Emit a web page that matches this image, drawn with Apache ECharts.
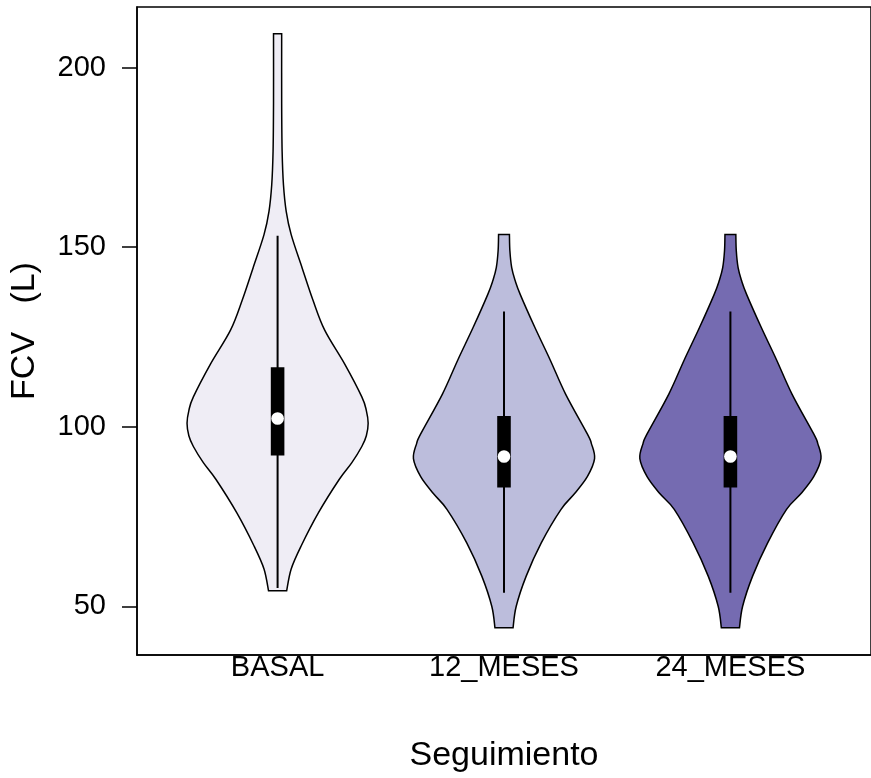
<!DOCTYPE html>
<html>
<head>
<meta charset="utf-8">
<script src="https://cdn.jsdelivr.net/npm/echarts@6/dist/echarts.min.js"></script>
<style>
  html, body { margin: 0; padding: 0; background: #fff; }
  #chart { width: 871px; height: 778px; }
</style>
</head>
<body>
<div id="chart"></div>
<script>
// grupos del seguimiento
var groups = ['BASAL', '12_MESES', '24_MESES'];

// perfiles de densidad (valor FCV, densidad relativa)
var basalY    = [54.3, 60.4, 66.8, 76, 85.3, 90, 94.5, 97.5, 101, 104.5, 108.3, 117.5, 126.9, 135.3, 144.3, 153.5, 160, 167.3, 176.7, 190, 209.4];
var basalDens = [0.10, 0.15, 0.26, 0.45, 0.68, 0.82, 0.93, 0.98, 1.0, 0.98, 0.93, 0.74, 0.52, 0.39, 0.27, 0.15, 0.095, 0.065, 0.05, 0.045, 0.045];

var m12Y    = [44, 50, 58.4, 67.6, 77, 81.4, 86.1, 91.1, 95.3, 98, 109.1, 118.6, 127.7, 136.8, 140.7, 144.3, 149, 153.5];
var m12Dens = [0.10, 0.135, 0.245, 0.41, 0.63, 0.78, 0.92, 1.0, 0.965, 0.92, 0.68, 0.51, 0.34, 0.18, 0.123, 0.085, 0.065, 0.06];

var m24Y    = [44, 50, 58.4, 67.6, 77, 81.4, 86.1, 91.1, 95.3, 98, 109.1, 118.6, 127.7, 136.8, 140.7, 144.3, 149, 153.5];
var m24Dens = [0.10, 0.135, 0.245, 0.41, 0.62, 0.78, 0.92, 1.0, 0.965, 0.92, 0.68, 0.51, 0.34, 0.18, 0.123, 0.085, 0.065, 0.06];

// resumen de caja
var whiskerLo = [55.1, 53.8, 53.8];
var boxQ1     = [92.0, 83.1, 83.1];
var medians   = [102.3, 91.7, 91.7];
var boxQ3     = [116.6, 103.0, 103.0];
var whiskerHi = [153.2, 132.1, 132.1];

var yTicks = [50, 100, 150, 200];

var profiles = [[basalY, basalDens], [m12Y, m12Dens], [m24Y, m24Dens]];
var fills = ['#efedf5', '#bcbddc', '#756bb1'];
var maxHalf = 0.40;   // semiancho máximo en unidades del eje x
var boxHalf = 0.030;

// curva suave (Catmull-Rom) entre puntos en píxeles
function curveTo(pts) {
  var s = '';
  for (var i = 0; i < pts.length - 1; i++) {
    var p0 = pts[i - 1] || pts[i], p1 = pts[i], p2 = pts[i + 1], p3 = pts[i + 2] || pts[i + 1];
    var c1 = [p1[0] + (p2[0] - p0[0]) / 6, p1[1] + (p2[1] - p0[1]) / 6];
    var c2 = [p2[0] - (p3[0] - p1[0]) / 6, p2[1] - (p3[1] - p1[1]) / 6];
    s += ' C' + c1[0] + ' ' + c1[1] + ' ' + c2[0] + ' ' + c2[1] + ' ' + p2[0] + ' ' + p2[1];
  }
  return s;
}

function renderViolin(params, api) {
  var i = params.dataIndex;
  var x = api.value(0);
  var ys = profiles[i][0], ds = profiles[i][1];
  var right = [], left = [];
  for (var k = 0; k < ys.length; k++) {
    right.push(api.coord([x + maxHalf * ds[k], ys[k]]));
    left.push(api.coord([x - maxHalf * ds[k], ys[k]]));
  }
  left.reverse();
  var d = 'M' + right[0][0] + ' ' + right[0][1] + curveTo(right) +
          ' L' + left[0][0] + ' ' + left[0][1] + curveTo(left) + ' Z';

  var wLo = api.coord([x, whiskerLo[i]]), wHi = api.coord([x, whiskerHi[i]]);
  var q1 = api.coord([x - boxHalf, boxQ1[i]]), q3 = api.coord([x + boxHalf, boxQ3[i]]);
  var med = api.coord([x, medians[i]]);

  return {
    type: 'group',
    children: [
      { type: 'path', shape: { pathData: d },
        style: { fill: fills[i], stroke: '#000', lineWidth: 1.5 } },
      { type: 'line', shape: { x1: wLo[0], y1: wLo[1], x2: wHi[0], y2: wHi[1] },
        style: { stroke: '#000', lineWidth: 2 } },
      { type: 'rect', shape: { x: q1[0], y: q3[1], width: q3[0] - q1[0], height: q1[1] - q3[1] },
        style: { fill: '#000' } },
      { type: 'circle', shape: { cx: med[0], cy: med[1], r: 6.3 },
        style: { fill: '#fff' } }
    ]
  };
}

var chart = echarts.init(document.getElementById('chart'));
chart.setOption({
  animation: false,
  textStyle: { fontFamily: 'Liberation Sans', color: '#000' },
  grid: {
    left: 137, top: 7, width: 741, height: 652,
    show: true, borderColor: '#000', borderWidth: 1.5, backgroundColor: 'transparent'
  },
  xAxis: {
    type: 'value', min: 0.379, max: 3.621,
    name: 'Seguimiento', nameLocation: 'middle', nameGap: 84,
    nameTextStyle: { fontSize: 34, color: '#000', fontFamily: 'Liberation Sans' },
    axisLine: { show: true, lineStyle: { color: '#000', width: 1.5 } },
    axisTick: { show: false },
    splitLine: { show: false },
    axisLabel: {
      customValues: [1, 2, 3],
      formatter: function (v) { return groups[Math.round(v) - 1]; },
      fontSize: 29, color: '#000', margin: -2, fontFamily: 'Liberation Sans'
    }
  },
  yAxis: {
    type: 'value', min: 36.44, max: 216.88,
    name: 'FCV   (L)', nameLocation: 'middle', nameGap: 95,
    nameTextStyle: { fontSize: 34, color: '#000', fontFamily: 'Liberation Sans' },
    axisLine: { show: true, lineStyle: { color: '#000', width: 1.5 } },
    axisTick: { show: true, customValues: yTicks, length: 15, lineStyle: { color: '#000', width: 1.5 } },
    splitLine: { show: false },
    axisLabel: { customValues: yTicks, fontSize: 29, color: '#000', margin: 31, fontFamily: 'Liberation Sans' }
  },
  series: [{
    type: 'custom',
    renderItem: renderViolin,
    data: [[1], [2], [3]],
    encode: { x: 0 },
    clip: false
  }]
});
</script>
</body>
</html>
